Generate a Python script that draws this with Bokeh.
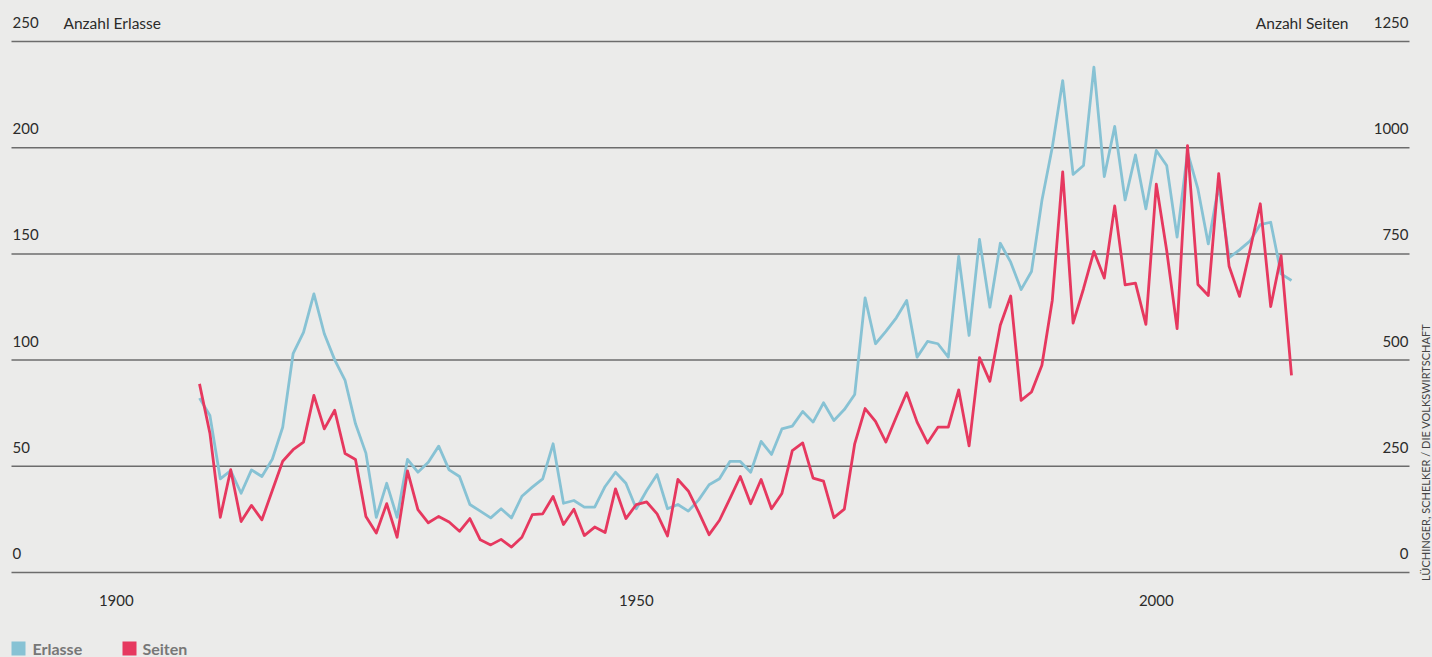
import math
from bokeh.plotting import figure
from bokeh.models import Range1d, ColumnDataSource
from bokeh.core.properties import value
from bokeh.embed import file_html
from bokeh.resources import INLINE

# ---------------- data ----------------
years = list(range(1908, 2014))

erlasse = [
    82.1, 73.9, 44.1, 48.0, 37.3, 48.3, 45.2, 53.3, 68.4, 103.0,
    113.1, 131.2, 112.4, 100.1, 90.4, 70.0, 56.2, 26.0, 42.0, 26.0,
    53.3, 47.2, 51.9, 59.5, 48.3, 45.2, 32.0, 28.9, 25.7, 30.0,
    25.7, 35.9, 40.2, 44.1, 60.6, 32.6, 33.9, 30.8, 30.8, 40.5,
    47.2, 42.0, 30.0, 38.6, 46.1, 30.0, 32.0, 28.9, 34.2, 41.3,
    44.1, 52.3, 52.3, 47.2, 61.7, 55.6, 67.6, 68.9, 75.8, 70.8,
    79.9, 71.6, 76.7, 83.8, 129.3, 107.7, 113.5, 119.9, 128.1, 101.4,
    108.8, 107.7, 101.4, 148.8, 111.6, 156.8, 124.9, 155.0, 146.1, 133.2,
    141.7, 175.1, 200.2, 231.6, 187.4, 191.6, 237.9, 186.4, 210.0, 175.4,
    196.6, 171.2, 198.7, 191.6, 157.9, 197.9, 180.6, 154.7, 182.2, 148.2,
    151.9, 156.0, 163.8, 164.9, 140.6, 137.5,
]

seiten = [
    444, 328, 130, 242, 120, 158, 124, 193, 262, 289,
    307, 417, 338, 382, 280, 266, 132, 93, 162, 83,
    239, 148, 117, 132, 119, 97, 127, 77, 65, 78,
    60, 83, 136, 138, 179, 113, 149, 87, 107, 94,
    197, 127, 160, 166, 138, 86, 219, 192, 142, 89,
    123, 174, 226, 162, 219, 150, 186, 287, 305, 222,
    215, 129, 149, 303, 386, 356, 307, 366, 423, 354,
    305, 342, 342, 430, 298, 506, 450, 582, 651, 405,
    425, 488, 641, 943, 587, 668, 756, 693, 863, 677,
    681, 584, 914, 758, 574, 1005, 678, 652, 939, 721,
    650, 758, 868, 626, 746, 464,
]

left_ticks = [0, 50, 100, 150, 200, 250]
right_ticks = [0, 250, 500, 750, 1000, 1250]
x_ticks = [1900, 1950, 2000]

left_title = "Anzahl Erlasse"
right_title = "Anzahl Seiten"
series_names = ["Erlasse", "Seiten"]
credit = "LÜCHINGER, SCHELKER / DIE VOLKSWIRTSCHAFT"

# ---------------- layout ----------------
W, H = 1432, 657
MARGIN = 0
BG = "#ebebea"
BLUE = "#87c2d4"
RED = "#e6385f"
GRID = "#6c6c6c"
TXT = "#2b2b2b"
FONT = "Lato"

PX_PER_YEAR = 10.4
ANCHOR_YEAR, ANCHOR_PX = 1908, 199
PX_PER_UNIT = 2.124
ZERO_PX = 572
SEITEN_FACTOR = 5.0

x_start = ANCHOR_YEAR - (ANCHOR_PX - MARGIN) / PX_PER_YEAR
x_end = x_start + W / PX_PER_YEAR
y_end = (ZERO_PX - MARGIN) / PX_PER_UNIT
y_start = (ZERO_PX - (MARGIN + H)) / PX_PER_UNIT


def px2x(px):
    return ANCHOR_YEAR + (px - ANCHOR_PX) / PX_PER_YEAR


def px2dy(dpx):
    return dpx / PX_PER_UNIT


def py2y(py):
    return (ZERO_PX - py) / PX_PER_UNIT


p = figure(width=W, height=H, output_backend="svg", toolbar_location=None,
           x_axis_type=None, y_axis_type=None,
           x_range=Range1d(x_start, x_end), y_range=Range1d(y_start, y_end),
           min_border=0, min_border_left=0, min_border_right=0,
           min_border_top=0, min_border_bottom=0)
p.extra_y_ranges = {"seiten": Range1d(y_start * SEITEN_FACTOR, y_end * SEITEN_FACTOR)}
p.background_fill_color = BG
p.border_fill_color = BG
p.outline_line_color = None
p.grid.visible = False

# grid lines
gx0, gx1 = px2x(11), px2x(1409)
p.segment(x0=[gx0] * len(left_ticks), x1=[gx1] * len(left_ticks),
          y0=left_ticks, y1=left_ticks, line_color=GRID, line_width=1.5)

# series
src = ColumnDataSource(dict(year=years, erlasse=erlasse, seiten=seiten))
p.line("year", "erlasse", source=src, line_color=BLUE, line_width=2.8,
       line_join="round")
p.line("year", "seiten", source=src, line_color=RED, line_width=2.8,
       line_join="round", y_range_name="seiten")

# left tick labels
lab_dy = px2dy(19)
p.text(x=[px2x(12)] * len(left_ticks), y=[t + lab_dy for t in left_ticks],
       text=[str(t) for t in left_ticks], text_font=value(FONT),
       text_font_size="15px", text_color=TXT, text_align="left",
       text_baseline="alphabetic")
# right tick labels
p.text(x=[px2x(1408)] * len(right_ticks),
       y=[t / SEITEN_FACTOR + lab_dy for t in right_ticks],
       text=[str(t) for t in right_ticks], text_font=value(FONT),
       text_font_size="15px", text_color=TXT, text_align="right",
       text_baseline="alphabetic")
# axis titles
p.text(x=[px2x(63)], y=[left_ticks[-1] + lab_dy], text=[left_title],
       text_font=value(FONT), text_font_size="15.5px", text_color=TXT,
       text_align="left", text_baseline="alphabetic")
p.text(x=[px2x(1348)], y=[left_ticks[-1] + lab_dy], text=[right_title],
       text_font=value(FONT), text_font_size="15.5px", text_color=TXT,
       text_align="right", text_baseline="alphabetic")
# x labels
p.text(x=x_ticks, y=[py2y(600)] * len(x_ticks), text=[str(t) for t in x_ticks],
       text_font=value(FONT), text_font_size="15px", text_color=TXT,
       text_align="center", text_baseline="alphabetic")

# legend
leg_y = py2y(648)
p.rect(x=[px2x(18), px2x(129)], y=[leg_y, leg_y], width=14, height=14,
       width_units="screen", height_units="screen",
       fill_color=[BLUE, RED], line_color=None)
p.text(x=[px2x(32), px2x(142)], y=[py2y(648)] * 2, text=series_names,
       text_font=value(FONT), text_font_size="16px", text_font_style="bold",
       text_color="#777777", text_align="left", text_baseline="alphabetic")

# credit
p.text(x=[px2x(1425)], y=[py2y(452)], text=[credit], angle=math.pi / 2,
       text_font=value(FONT), text_font_size="11px", text_color="#444444",
       text_align="center", text_baseline="middle")

html = file_html(p, INLINE)
html = html.replace(
    "</head>",
    "<style>html,body{margin:0;padding:0;overflow:hidden;background:%s;}</style></head>" % BG,
    1)
open("out.html", "w").write(html)
